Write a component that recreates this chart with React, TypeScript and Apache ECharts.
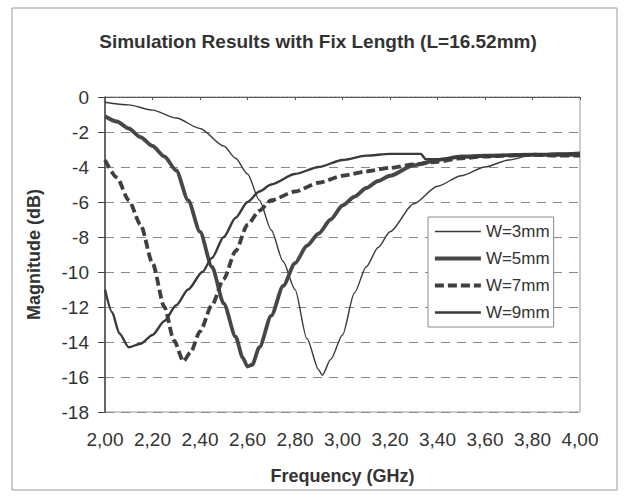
import React, { useEffect, useRef } from "react";
import * as echarts from "echarts";

// ---- data (frequency in GHz, magnitude in dB) ----
const seriesNames = ["W=3mm", "W=5mm", "W=7mm", "W=9mm"];

const w3Freq = [2.00, 2.10, 2.20, 2.30, 2.40, 2.50, 2.55, 2.60, 2.65, 2.70, 2.75, 2.80, 2.85, 2.90, 2.915, 2.95, 3.00, 3.05, 3.10, 3.15, 3.20, 3.30, 3.40, 3.50, 3.60, 3.70, 3.80, 3.90, 4.00];
const w3Mag = [-0.3, -0.45, -0.75, -1.2, -1.8, -2.8, -3.5, -4.4, -5.9, -7.6, -9.4, -11.0, -13.8, -15.6, -15.9, -15.0, -13.6, -11.2, -9.7, -8.6, -7.7, -6.1, -5.1, -4.5, -4.0, -3.6, -3.3, -3.2, -3.15];

const w5Freq = [2.00, 2.05, 2.10, 2.15, 2.20, 2.25, 2.30, 2.35, 2.40, 2.45, 2.50, 2.55, 2.58, 2.60, 2.62, 2.65, 2.70, 2.75, 2.80, 2.85, 2.90, 2.95, 3.00, 3.05, 3.10, 3.15, 3.20, 3.30, 3.40, 3.50, 3.60, 3.80, 4.00];
const w5Mag = [-1.1, -1.4, -1.8, -2.3, -2.8, -3.4, -4.2, -5.9, -7.7, -9.7, -11.8, -13.7, -14.9, -15.4, -15.3, -14.3, -12.5, -10.8, -9.5, -8.5, -7.8, -7.0, -6.2, -5.7, -5.2, -4.8, -4.5, -3.9, -3.6, -3.4, -3.35, -3.3, -3.3];

const w7Freq = [2.00, 2.05, 2.10, 2.15, 2.20, 2.25, 2.29, 2.33, 2.36, 2.40, 2.45, 2.50, 2.55, 2.60, 2.65, 2.70, 2.80, 2.90, 3.00, 3.10, 3.20, 3.30, 3.40, 3.50, 3.60, 3.70, 3.80, 3.90, 4.00];
const w7Mag = [-3.6, -4.6, -5.9, -7.3, -9.5, -12.0, -13.9, -15.1, -14.6, -13.4, -11.9, -10.4, -8.8, -7.3, -6.5, -5.9, -5.4, -4.9, -4.5, -4.25, -4.05, -3.85, -3.7, -3.5, -3.4, -3.35, -3.3, -3.35, -3.35];

const w9Freq = [2.00, 2.03, 2.06, 2.10, 2.15, 2.20, 2.25, 2.30, 2.35, 2.41, 2.45, 2.50, 2.55, 2.60, 2.65, 2.70, 2.80, 2.90, 3.00, 3.10, 3.20, 3.33, 3.35, 3.40, 3.50, 3.60, 3.80, 4.00];
const w9Mag = [-11.0, -12.3, -13.5, -14.3, -14.1, -13.6, -12.8, -11.9, -11.0, -10.0, -9.2, -8.0, -6.9, -6.0, -5.4, -5.0, -4.4, -4.0, -3.6, -3.35, -3.25, -3.25, -3.55, -3.55, -3.45, -3.4, -3.3, -3.25];

const xTicks = { min: 2, max: 4, step: 0.2 };
const yTicks = { min: -18, max: 0, step: 2 };

const FONT = "'Liberation Sans', Arial, sans-serif";
const TXT = "#333333";

const lineStyles = [
  { color: "#3a3a3a", width: 1.4, type: "solid" as any },
  { color: "#474747", width: 3.8, type: "solid" as any },
  { color: "#3f3f3f", width: 3.8, type: [9, 4] as any },
  { color: "#3a3a3a", width: 2.4, type: "solid" as any },
];

function pairs(f: number[], m: number[]) {
  return f.map((x, i) => [x, m[i]]);
}

export default function App() {
  const ref = useRef<HTMLDivElement>(null);
  useEffect(() => {
    document.body.style.margin = "0";
    if (!ref.current) return;
    const chart = echarts.init(ref.current, undefined, { renderer: "svg" });
    const datasets = [
      pairs(w3Freq, w3Mag),
      pairs(w5Freq, w5Mag),
      pairs(w7Freq, w7Mag),
      pairs(w9Freq, w9Mag),
    ];
    chart.setOption({
      animation: false,
      backgroundColor: "#ffffff",
      title: {
        text: "Simulation Results with Fix Length (L=16.52mm)",
        left: 313,
        textAlign: "center",
        top: 27,
        textStyle: { fontFamily: FONT, fontSize: 19, fontWeight: "bold", color: TXT },
      },
      graphic: [
        {
          type: "rect",
          shape: { x: 12, y: 8, width: 605, height: 482 },
          style: { fill: "none", stroke: "#9a9a9a", lineWidth: 1 },
          silent: true,
        },
      ],
      legend: {
        orient: "vertical",
        left: 428,
        top: 217,
        backgroundColor: "#ffffff",
        borderColor: "#8a8a8a",
        borderWidth: 1,
        padding: [5, 4, 5, 5],
        itemGap: 8,
        itemWidth: 46,
        itemHeight: 19,
        data: seriesNames.map((n, i) => ({
          name: n,
          itemStyle: { opacity: 0 },
          lineStyle: { ...lineStyles[i] },
        })),
        textStyle: { fontFamily: FONT, fontSize: 17, color: TXT, lineHeight: 19 },
      },
      grid: {
        left: 105,
        top: 97,
        right: 47,
        bottom: 86,
        show: true,
        borderColor: "#9a9a9a",
        borderWidth: 1,
      },
      xAxis: {
        type: "value",
        min: xTicks.min,
        max: xTicks.max,
        interval: xTicks.step,
        name: "Frequency (GHz)",
        nameLocation: "middle",
        nameGap: 55,
        nameTextStyle: { fontFamily: FONT, fontSize: 18, fontWeight: "bold", color: TXT },
        axisLine: { lineStyle: { color: "#555", width: 1, type: [3, 1] } },
        axisTick: { show: true, length: 3, lineStyle: { color: "#555" } },
        axisLabel: {
          fontFamily: FONT,
          fontSize: 19,
          color: TXT,
          margin: 18,
          formatter: (v: number) => v.toFixed(2).replace(".", ","),
        },
        splitLine: { show: false },
      },
      yAxis: {
        type: "value",
        min: yTicks.min,
        max: yTicks.max,
        interval: yTicks.step,
        name: "Magnitude (dB)",
        nameLocation: "middle",
        nameGap: 62,
        nameTextStyle: { fontFamily: FONT, fontSize: 18, fontWeight: "bold", color: TXT },
        axisLine: { show: true, lineStyle: { color: "#444", width: 1.5 } },
        axisTick: { show: true, length: 7, lineStyle: { color: "#444" } },
        axisLabel: { fontFamily: FONT, fontSize: 19, color: TXT, margin: 16 },
        splitLine: { show: true, lineStyle: { color: "#8a8a8a", type: [9, 7], width: 1 } },
      },
      series: seriesNames.map((n, i) => ({
        type: "line",
        name: n,
        symbol: "none",
        smooth: 0.25,
        smoothMonotone: "x",
        data: datasets[i],
        lineStyle: { ...lineStyles[i] },
        itemStyle: { color: lineStyles[i].color },
      })),
    });
    return () => chart.dispose();
  }, []);
  return <div ref={ref} style={{ width: 627, height: 498 }} />;
}
